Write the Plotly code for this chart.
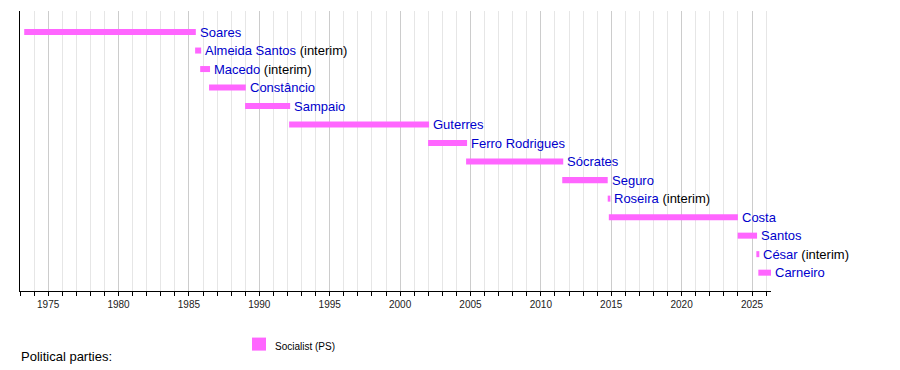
import plotly.graph_objects as go

leaders = ["Soares", "Almeida Santos", "Macedo", "Constâncio", "Sampaio", "Guterres",
           "Ferro Rodrigues", "Sócrates", "Seguro", "Roseira", "Costa", "Santos",
           "César", "Carneiro"]
starts = [1973.30, 1985.44, 1985.80, 1986.43, 1988.99, 1992.12, 2001.99, 2004.69,
          2011.52, 2014.75, 2014.83, 2023.98, 2025.31, 2025.45]
ends = [1985.49, 1985.87, 1986.50, 1989.04, 1992.19, 2002.06, 2004.76, 2011.59,
        2014.75, 2014.94, 2024.00, 2025.36, 2025.52, 2026.35]
interim = [False, True, True, False, False, False, False, False, False, True,
           False, False, True, False]
party_name = "Socialist (PS)"
party_color = "#ff66ff"
x_range = [1973.0, 2026.35]

rows = list(range(len(leaders)))
durations = [e - s for s, e in zip(starts, ends)]

FONT = "Liberation Sans, Arial, Helvetica, sans-serif"
LINK = "#0000cc"

fig = go.Figure()
fig.add_trace(go.Bar(
    orientation="h", y=rows, x=durations, base=starts,
    width=0.325, marker=dict(color=party_color, line=dict(width=0)),
    showlegend=False, hoverinfo="skip",
))

annotations = []
for i, (name, e, itm) in enumerate(zip(leaders, ends, interim)):
    txt = f'<span style="color:{LINK}">{name}</span>'
    if itm:
        txt += '<span style="color:#000000"> (interim)</span>'
    annotations.append(dict(
        x=e, y=i, xref="x", yref="y", text=txt, showarrow=False,
        xanchor="left", yanchor="middle", xshift=2,
        font=dict(family=FONT, size=13, color="#000000"),
    ))

# legend
W = 751.0
H = 279.5
def px_x(p):
    return (p - 20) / W
def px_y(p):
    return (290.5 - p) / H

annotations.append(dict(
    x=px_x(19), y=px_y(355.7), xref="paper", yref="paper", text="Political parties:",
    showarrow=False, xanchor="left", yanchor="middle",
    font=dict(family=FONT, size=13, color="#000000"),
))
annotations.append(dict(
    x=px_x(273), y=px_y(345.7), xref="paper", yref="paper", text=party_name,
    showarrow=False, xanchor="left", yanchor="middle",
    font=dict(family=FONT, size=10, color="#000000"),
))
shapes = [dict(
    type="rect", xref="paper", yref="paper",
    x0=px_x(252), x1=px_x(266), y0=px_y(350), y1=px_y(337),
    fillcolor=party_color, line=dict(width=0), layer="above",
)]

fig.update_layout(
    width=900, height=370,
    margin=dict(l=20, r=129, t=11, b=79, pad=0),
    paper_bgcolor="white", plot_bgcolor="white",
    barmode="overlay",
    annotations=annotations, shapes=shapes,
    xaxis=dict(
        range=x_range, tick0=1975, dtick=5, showgrid=True, gridcolor="#cccccc",
        gridwidth=1, zeroline=False, showline=True, linecolor="#000000", linewidth=1,
        ticks="outside", ticklen=4, tickcolor="#000000", tickwidth=1,
        tickfont=dict(family=FONT, size=10, color="#222222"),
        minor=dict(dtick=1, showgrid=True, gridcolor="#e6e6e6", gridwidth=1,
                   ticks="outside", ticklen=4, tickcolor="#000000", tickwidth=1),
        fixedrange=True,
    ),
    yaxis=dict(
        range=[13.99, -1.136], showgrid=False, zeroline=False, showticklabels=False,
        showline=True, linecolor="#000000", linewidth=1, ticks="", fixedrange=True,
    ),
    font=dict(family=FONT),
    showlegend=False,
)

fig.write_html("out.html", config={"displayModeBar": False},
               post_script="document.body.style.margin='0';document.body.style.padding='0';")
